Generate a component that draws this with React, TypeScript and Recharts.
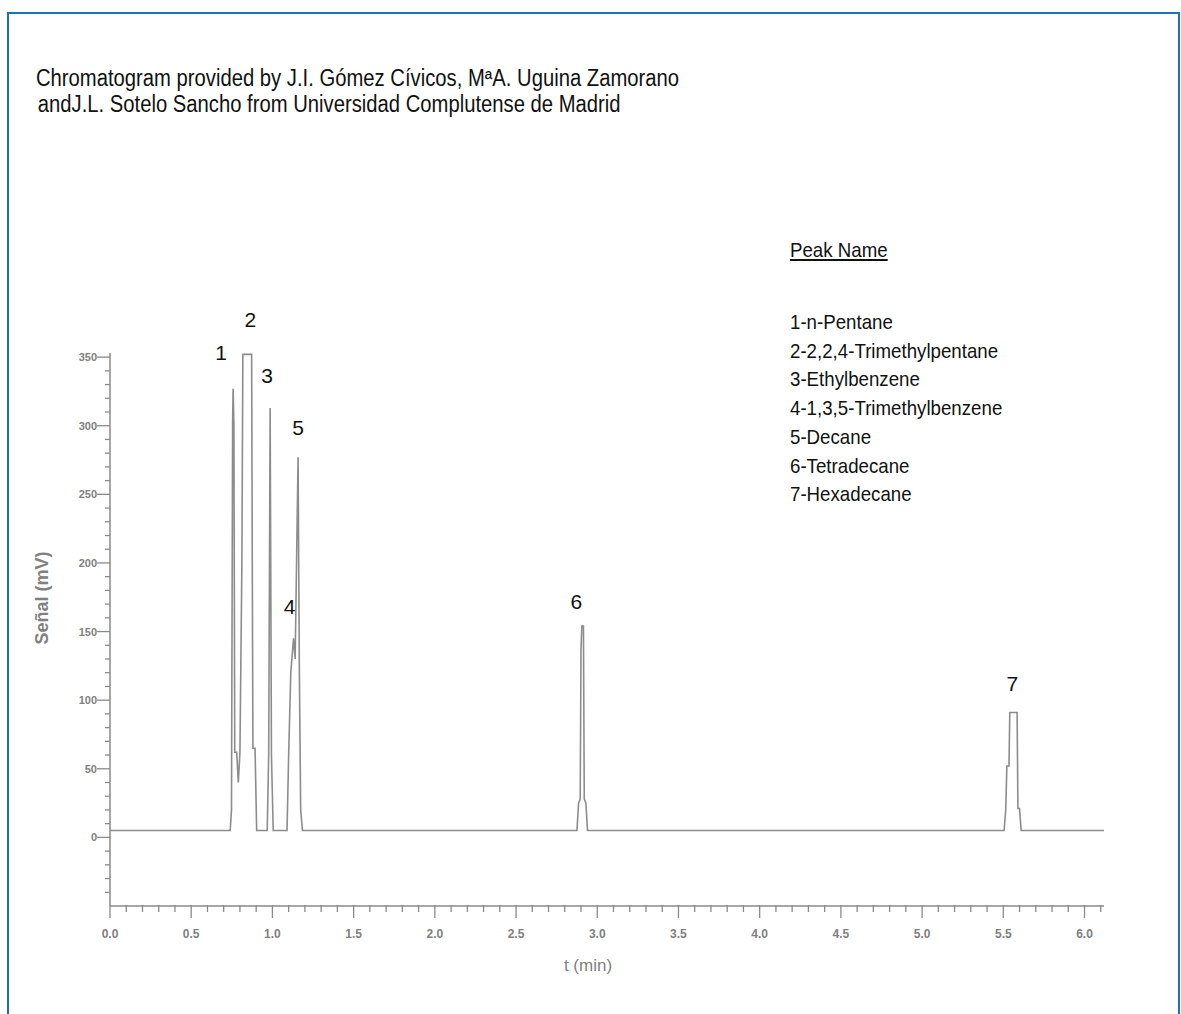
import { Line, LineChart, ReferenceDot, XAxis, YAxis } from 'recharts';

// Chromatogram trace (time in min, signal in mV)
const TIME = [
  0.0, 0.74, 0.748, 0.755, 0.758, 0.763, 0.768, 0.78, 0.79, 0.8, 0.812, 0.818, 0.872, 0.876, 0.88, 0.893, 0.903,
  0.968, 0.977, 0.986, 0.994, 1.005,
  1.09, 1.1, 1.113, 1.13, 1.14, 1.158, 1.166, 1.174, 1.185,
  2.875, 2.885, 2.895, 2.9, 2.905, 2.915, 2.92, 2.93, 2.94,
  5.505, 5.515, 5.522, 5.535, 5.54, 5.585, 5.59, 5.6, 5.61, 6.12,
];
const SIGNAL = [
  5, 5, 20, 302, 327, 300, 62, 62, 40, 62, 200, 352, 352, 200, 65, 65, 5,
  5, 60, 313, 60, 5,
  5, 60, 120, 145, 130, 277, 120, 20, 5,
  5, 25, 28, 137, 154, 154, 28, 25, 5,
  5, 20, 52, 52, 91, 91, 21, 21, 5, 5,
];

const PEAKS = [
  { id: '1', t: 0.758, mV: 327 },
  { id: '2', t: 0.84, mV: 352 },
  { id: '3', t: 0.986, mV: 313 },
  { id: '4', t: 1.13, mV: 145 },
  { id: '5', t: 1.158, mV: 277 },
  { id: '6', t: 2.908, mV: 154 },
  { id: '7', t: 5.562, mV: 91 },
];
// label offset from the apex, px
const LABEL_OFFSET: Record<string, [number, number]> = {
  '1': [-12, -36], '2': [4, -35], '3': [-3, -32], '4': [-4, -32], '5': [0, -30], '6': [-6, -25], '7': [-1, -29],
};

const PEAK_NAMES = [
  '1-n-Pentane',
  '2-2,2,4-Trimethylpentane',
  '3-Ethylbenzene',
  '4-1,3,5-Trimethylbenzene',
  '5-Decane',
  '6-Tetradecane',
  '7-Hexadecane',
];

const X_MAJOR = [0, 0.5, 1, 1.5, 2, 2.5, 3, 3.5, 4, 4.5, 5, 5.5, 6];
const Y_MAJOR = [0, 50, 100, 150, 200, 250, 300, 350];
const X_TICKS = Array.from({ length: 62 }, (_, i) => Math.round(i * 10) / 100);
const Y_TICKS = Array.from({ length: 40 }, (_, i) => -40 + i * 10);

const AXIS = '#8a8a8a';
const TICK_TEXT = '#808080';
const SANS = "'Liberation Sans', Arial, sans-serif";

const isMajor = (list: number[], v: number) => list.some((m) => Math.abs(m - v) < 1e-6);

function XTick(props: any) {
  const { x, y, payload } = props;
  const major = isMajor(X_MAJOR, payload.value);
  return (
    <g>
      <line x1={x} x2={x} y1={y - 1} y2={y + (major ? 12 : 6)} stroke={AXIS} strokeWidth={1.3} />
      {major && (
        <text x={x} y={y + 32} textAnchor="middle" fontSize={12} fontWeight="bold" fill={TICK_TEXT} fontFamily={SANS}>
          {payload.value.toFixed(1)}
        </text>
      )}
    </g>
  );
}

function YTick(props: any) {
  const { x, y, payload } = props;
  const major = isMajor(Y_MAJOR, payload.value);
  return (
    <g>
      <line x1={x - (major ? 13 : 5)} x2={x} y1={y} y2={y} stroke={AXIS} strokeWidth={1.3} />
      {major && (
        <text x={x - 13} y={y + 4} textAnchor="end" fontSize={11} fontWeight="bold" fill={TICK_TEXT} fontFamily={SANS}>
          {payload.value}
        </text>
      )}
    </g>
  );
}

export default function App() {
  const data = TIME.map((t, i) => ({ t, mV: SIGNAL[i] }));

  return (
    <div style={{ position: 'absolute', left: 0, top: 0, width: 1181, height: 1014, background: '#fff', overflow: 'hidden' }}>
      {/* blue frame, open at the bottom */}
      <div style={{ position: 'absolute', left: 7, top: 12, width: 1169, height: 1010, borderTop: '2px solid #1b73b3', borderLeft: '2px solid #1b73b3', borderRight: '2px solid #1b73b3' }} />

      <div
        style={{
          position: 'absolute', left: 36, top: 65, fontFamily: SANS, fontSize: 23, lineHeight: '26px', color: '#111',
          transform: 'scaleX(0.88)', transformOrigin: 'left top', whiteSpace: 'nowrap',
        }}
      >
        <div>Chromatogram provided by J.I. Gómez Cívicos, MªA. Uguina Zamorano</div>
        <div style={{ paddingLeft: 2 }}>andJ.L. Sotelo Sancho from Universidad Complutense de Madrid</div>
      </div>

      <div
        style={{
          position: 'absolute', left: 790, top: 238, fontFamily: SANS, fontSize: 21, color: '#111',
          transform: 'scaleX(0.89)', transformOrigin: 'left top', whiteSpace: 'nowrap',
        }}
      >
        <div style={{ textDecoration: 'underline', lineHeight: '24px' }}>Peak Name</div>
        <div style={{ marginTop: 46, lineHeight: '28.7px' }}>
          {PEAK_NAMES.map((n) => (
            <div key={n}>{n}</div>
          ))}
        </div>
      </div>

      <div
        style={{
          position: 'absolute', left: 42, top: 598, transform: 'translate(-50%, -50%) rotate(-90deg)',
          fontFamily: SANS, fontSize: 18, fontWeight: 'bold', color: '#808080', whiteSpace: 'nowrap',
        }}
      >
        Señal (mV)
      </div>
      <div
        style={{
          position: 'absolute', left: 588, top: 966, transform: 'translate(-50%, -50%)',
          fontFamily: SANS, fontSize: 17, color: '#808080', whiteSpace: 'nowrap',
        }}
      >
        t (min)
      </div>

      <div style={{ position: 'absolute', left: 0, top: 0 }}>
        <LineChart width={1181} height={1014} data={data} margin={{ top: 353, right: 77, bottom: 78, left: 50 }}>
          <XAxis
            dataKey="t" type="number" domain={[0, 6.12]} ticks={X_TICKS} interval={0}
            axisLine={{ stroke: AXIS, strokeWidth: 1.5 }} tickLine={false} tickSize={0} tickMargin={0}
            height={30} tick={<XTick />}
          />
          <YAxis
            type="number" domain={[-50, 353]} ticks={Y_TICKS} interval={0}
            axisLine={{ stroke: AXIS, strokeWidth: 1.5 }} tickLine={false} tickSize={0} tickMargin={0}
            width={60} tick={<YTick />}
          />
          <Line type="linear" dataKey="mV" stroke="#8c8c8c" strokeWidth={1.6} dot={false} isAnimationActive={false} />
          {PEAKS.map((p) => (
            <ReferenceDot
              key={p.id} x={p.t} y={p.mV} r={0}
              shape={(s: any) => (
                <text
                  x={s.cx + LABEL_OFFSET[p.id][0]} y={s.cy + LABEL_OFFSET[p.id][1]} textAnchor="middle" dominantBaseline="central"
                  fontSize={21} fill="#111" fontFamily={SANS}
                >
                  {p.id}
                </text>
              )}
            />
          ))}
        </LineChart>
      </div>
    </div>
  );
}
